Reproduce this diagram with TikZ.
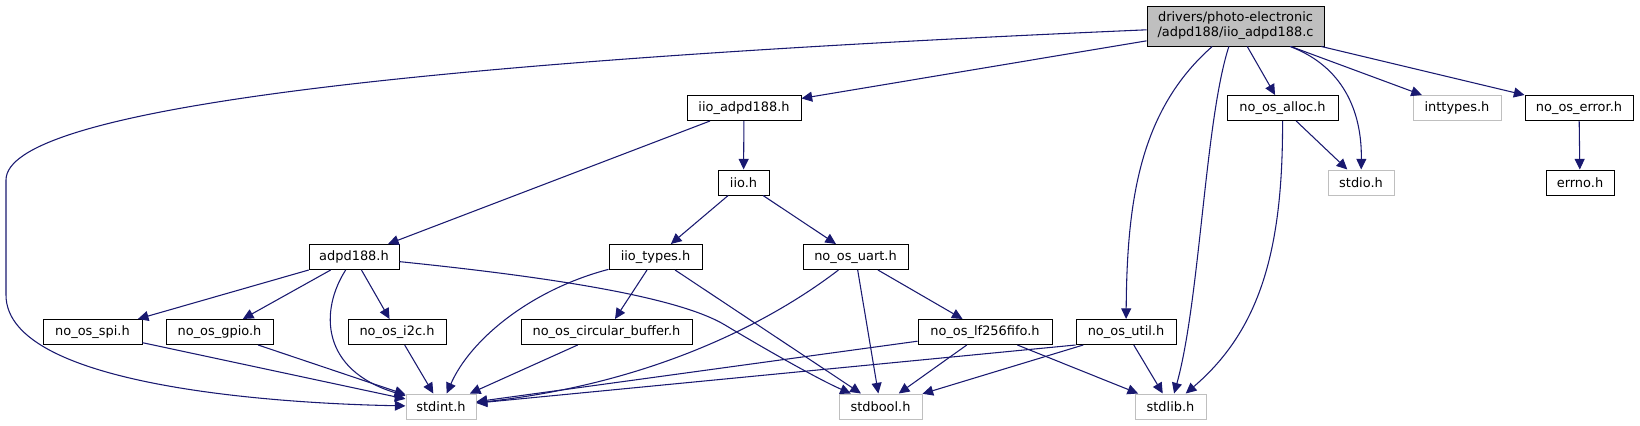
\documentclass[tikz,border=0pt]{standalone}
\usepackage{fontspec}
\setmainfont{DejaVu Sans}
\usetikzlibrary{arrows.meta}
\definecolor{edgec}{HTML}{191970}
\definecolor{grayb}{HTML}{BFBFBF}
\begin{document}
\begin{tikzpicture}[x=0.75pt,y=-0.75pt,
  box/.style={draw=black, line width=0.75pt, fill=white, inner sep=0pt,
    minimum height=18.75pt, font=\fontsize{9.7}{11.3}\selectfont},
  ext/.style={box, draw=grayb},
  edge/.style={draw=edgec, line width=0.8pt, -{Triangle[length=8pt,width=7.5pt]}}]
\useasboundingbox (0,0) rectangle (1640,425);
% nodes
\node[box, fill=grayb, minimum width=177*0.75pt, minimum height=40*0.75pt, align=center] (main) at (1235.5,26) {drivers/photo-electronic\\/adpd188/iio\_adpd188.c};
\node[box, minimum width=114*0.75pt] (iioadpd) at (744,108) {iio\_adpd188.h};
\node[box, minimum width=111*0.75pt] (alloc) at (1282.5,108) {no\_os\_alloc.h};
\node[ext, minimum width=88*0.75pt] (inttypes) at (1457,108) {inttypes.h};
\node[box, minimum width=108*0.75pt] (error) at (1579,108) {no\_os\_error.h};
\node[box, minimum width=51*0.75pt] (iio) at (743.5,182.5) {iio.h};
\node[ext, minimum width=66*0.75pt] (stdio) at (1361,182.5) {stdio.h};
\node[box, minimum width=68*0.75pt] (errno) at (1580,182.5) {errno.h};
\node[box, minimum width=90*0.75pt] (adpd) at (354,257) {adpd188.h};
\node[box, minimum width=93*0.75pt] (iiotypes) at (655.5,257) {iio\_types.h};
\node[box, minimum width=105*0.75pt] (uart) at (855.5,257) {no\_os\_uart.h};
\node[box, minimum width=99*0.75pt] (spi) at (92.5,332) {no\_os\_spi.h};
\node[box, minimum width=107*0.75pt] (gpio) at (219.5,332) {no\_os\_gpio.h};
\node[box, minimum width=98*0.75pt] (i2c) at (397,332) {no\_os\_i2c.h};
\node[box, minimum width=171*0.75pt] (circ) at (606.5,332) {no\_os\_circular\_buffer.h};
\node[box, minimum width=134*0.75pt] (fifo) at (985,332) {no\_os\_lf256fifo.h};
\node[box, minimum width=100*0.75pt] (util) at (1126,332) {no\_os\_util.h};
\node[ext, minimum width=70*0.75pt] (stdint) at (441,406.5) {stdint.h};
\node[ext, minimum width=83*0.75pt] (stdbool) at (880.5,406.5) {stdbool.h};
\node[ext, minimum width=71*0.75pt] (stdlib) at (1170.5,406.5) {stdlib.h};
\coordinate (lt) at (6,180);
\coordinate (lb) at (6,295);
\coordinate (bend) at (725,325);
% edges from main
\draw[edge] (main) .. controls (400,62) and (6,110) .. (lt) -- (lb) .. controls (6,390) and (300,404) .. (stdint);
\draw[edge] (main) -- (iioadpd);
\draw[edge] (main) .. controls (1140,110) and (1127,200) .. (util);
\draw[edge] (main) .. controls (1205,120) and (1200,300) .. (stdlib);
\draw[edge] (main) -- (alloc);
\draw[edge] (main) .. controls (1342,66) and (1362,110) .. (stdio);
\draw[edge] (main) -- (inttypes);
\draw[edge] (main) -- (error);
% iio_adpd188.h
\draw[edge] (iioadpd) -- (adpd);
\draw[edge] (iioadpd) -- (iio);
% iio.h
\draw[edge] (iio) -- (iiotypes);
\draw[edge] (iio) -- (uart);
% adpd188.h
\draw[edge] (adpd) -- (spi);
\draw[edge] (adpd) -- (gpio);
\draw[edge] (adpd) -- (i2c);
\draw[edge] (adpd) .. controls (320,310) and (320,370) .. (stdint);
\draw[edge] (adpd) .. controls (560,278) and (680,298) .. (bend) .. controls (770,352) and (820,380) .. (stdbool);
\draw[edge] (spi) -- (stdint);
\draw[edge] (gpio) -- (stdint);
\draw[edge] (i2c) -- (stdint);
% iio_types.h
\draw[edge] (iiotypes) .. controls (530,290) and (470,340) .. (stdint);
\draw[edge] (iiotypes) -- (circ);
\draw[edge] (iiotypes) -- (stdbool);
\draw[edge] (circ) -- (stdint);
% no_os_uart.h
\draw[edge] (uart) .. controls (760,330) and (640,385) .. (stdint);
\draw[edge] (uart) -- (stdbool);
\draw[edge] (uart) -- (fifo);
% fifo
\draw[edge] (fifo) -- (stdint);
\draw[edge] (fifo) -- (stdbool);
\draw[edge] (fifo) -- (stdlib);
% util
\draw[edge] (util.south west) -- (stdint);
\draw[edge] (util) -- (stdbool);
\draw[edge] (util) -- (stdlib);
% alloc
\draw[edge] (alloc) -- (stdio);
\draw[edge] (alloc) .. controls (1283,250) and (1260,330) .. (stdlib);
% error
\draw[edge] (error) -- (errno);
\end{tikzpicture}
\end{document}
